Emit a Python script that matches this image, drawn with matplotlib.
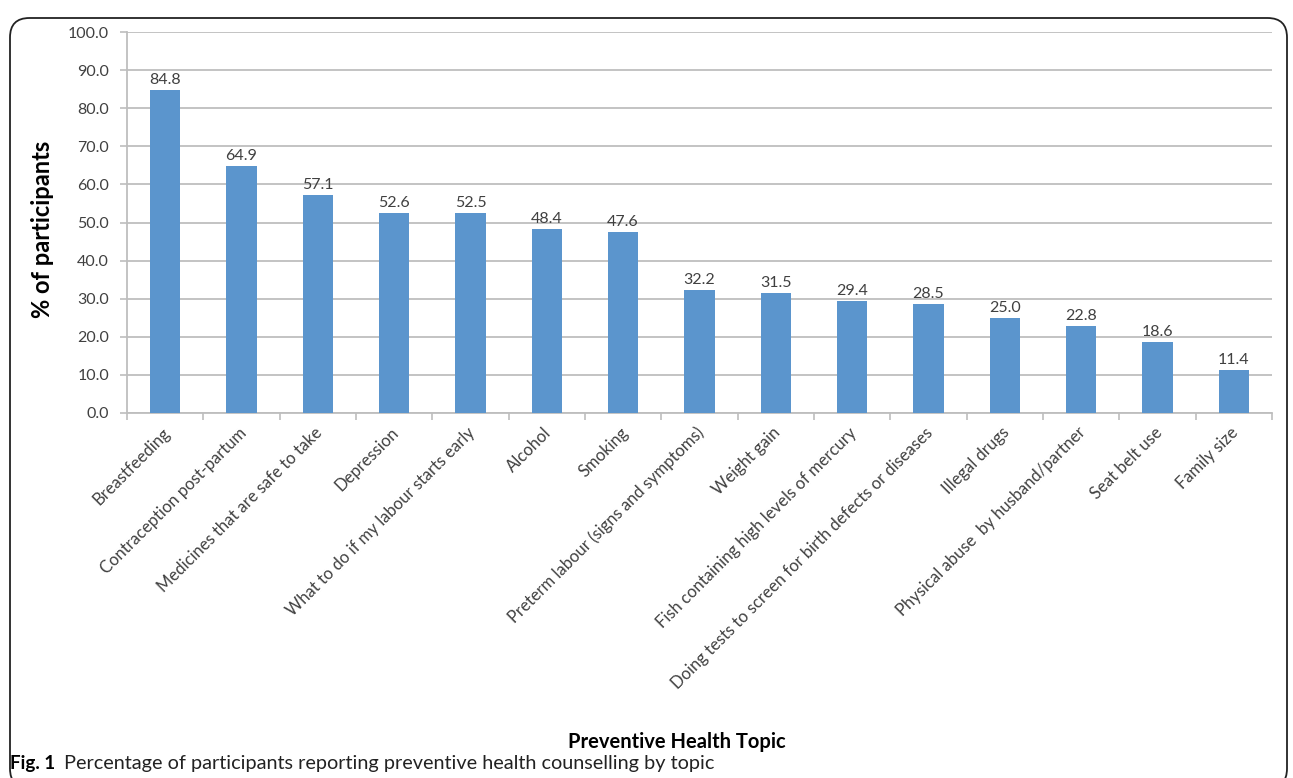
import matplotlib.pyplot as plt
from matplotlib.patches import FancyBboxPatch

topics = [
    "Breastfeeding",
    "Contraception post-partum",
    "Medicines that are safe to take",
    "Depression",
    "What to do if my labour starts early",
    "Alcohol",
    "Smoking",
    "Preterm labour (signs and symptoms)",
    "Weight gain",
    "Fish containing high levels of mercury",
    "Doing tests to screen for birth defects or diseases",
    "Illegal drugs",
    "Physical abuse  by husband/partner",
    "Seat belt use",
    "Family size",
]
percent = [84.8, 64.9, 57.1, 52.6, 52.5, 48.4, 47.6, 32.2, 31.5, 29.4, 28.5, 25.0, 22.8, 18.6, 11.4]
yticks = [0, 10, 20, 30, 40, 50, 60, 70, 80, 90, 100]

plt.rcParams['font.family'] = ['Lato', 'DejaVu Sans']

W, H = 1293, 778
fig = plt.figure(figsize=(W / 100, H / 100), dpi=100)
ax = fig.add_axes([127 / W, 1 - 413 / H, (1272 - 127) / W, (413 - 32) / H])

x = range(len(topics))
ax.bar(x, percent, width=0.4, color='#5B95CD', zorder=3)
for i, v in zip(x, percent):
    ax.text(i, v + 0.8, f"{v:.1f}", ha='center', va='bottom', fontsize=11.5, color='#404040')

ax.set_xlim(-0.5, len(topics) - 0.5)
ax.set_ylim(0, 100)
ax.set_yticks(yticks)
ax.set_yticklabels([f"{t:.1f}" for t in yticks], fontsize=11.5, color='#404040')
ax.yaxis.grid(True, color='#BEBEBE', linewidth=1.3, zorder=0)

# ticks at category boundaries, labels anchored at bar centres
ax.set_xticks([i + 0.5 for i in range(-1, len(topics))])
ax.set_xticklabels([])
ax.tick_params(axis='x', length=5, color='#BEBEBE', width=1.2)
ax.tick_params(axis='y', length=5, color='#BEBEBE', width=1.2, pad=8)
for i, t in enumerate(topics):
    ax.text(i + 0.03, -4.5, t, rotation=45, rotation_mode='anchor', ha='right', va='center',
            fontsize=12, color='#404040')

for s in ['top', 'right']:
    ax.spines[s].set_visible(False)
for s in ['left', 'bottom']:
    ax.spines[s].set_color('#BEBEBE')
    ax.spines[s].set_linewidth(1.3)

fig.text(43 / W, 1 - 229 / H, '% of participants', rotation=90, ha='center', va='center',
         fontsize=17, fontweight='bold')
fig.text(677 / W, 1 - 742 / H, 'Preventive Health Topic', ha='center', va='center',
         fontsize=14.5, fontweight='bold')

fig.text(10 / W, 1 - 764 / H, 'Fig. 1', ha='left', va='center', fontsize=13.5, fontweight='bold')
fig.text(64 / W, 1 - 764 / H, 'Percentage of participants reporting preventive health counselling by topic',
         ha='left', va='center', fontsize=14.3, color='#222222')

box = FancyBboxPatch((10 / W, -10 / H), 1277 / W, 770 / H,
                     boxstyle='round,pad=0,rounding_size=0.015', transform=fig.transFigure,
                     fill=False, edgecolor='#222222', linewidth=1.3, mutation_aspect=W / H)
fig.patches.append(box)

fig.savefig('out.png', dpi=100)
